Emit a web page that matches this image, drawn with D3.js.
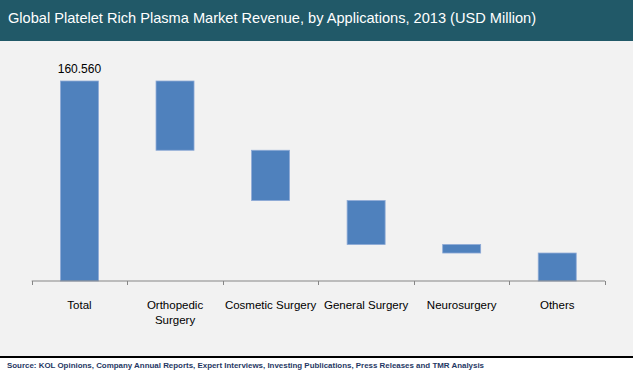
<!DOCTYPE html>
<html>
<head>
<meta charset="utf-8">
<script src="https://cdn.jsdelivr.net/npm/d3@7"></script>
<style>
  html, body { margin: 0; padding: 0; background: #fff; }
  svg { display: block; }
</style>
</head>
<body>
<div id="chart"></div>
<script>
const categories = ["Total", "Orthopedic Surgery", "Cosmetic Surgery", "General Surgery", "Neurosurgery", "Others"];
const values = [160.56, 55.6, 40.4, 35.3, 6.8, 22.46];
const totalLabel = "160.560";

const W = 633, H = 377;
const svg = d3.select("#chart").append("svg").attr("width", W).attr("height", H);

// backgrounds
svg.append("rect").attr("width", W).attr("height", 356).attr("fill", "#f2f2f2");
svg.append("rect").attr("width", W).attr("height", 41).attr("fill", "#215968");
svg.append("rect").attr("y", 356).attr("width", W).attr("height", 2).attr("fill", "#000");

svg.append("text")
  .attr("x", 8).attr("y", 23)
  .attr("fill", "#fff")
  .attr("font-family", "Liberation Sans, Arial, sans-serif")
  .attr("font-size", "14.5px")
  .attr("textLength", 528).attr("lengthAdjust", "spacingAndGlyphs")
  .text("Global Platelet Rich Plasma Market Revenue, by Applications, 2013 (USD Million)");

svg.append("text")
  .attr("x", 7).attr("y", 368)
  .attr("fill", "#1f3864")
  .attr("font-family", "Liberation Sans, Arial, sans-serif")
  .attr("font-size", "8px").attr("font-weight", "bold")
  .attr("textLength", 477).attr("lengthAdjust", "spacingAndGlyphs")
  .text("Source: KOL Opinions, Company Annual Reports, Expert Interviews, Investing Publications, Press Releases and TMR Analysis");

// waterfall data
let run = values[0];
const data = categories.map((c, i) => {
  if (i === 0) return { c, y0: 0, y1: values[0] };
  const d = { c, y0: run - values[i], y1: run };
  run -= values[i];
  return d;
});

const x = d3.scaleBand().domain(categories).range([31.7, 605]).paddingInner(0).paddingOuter(0);
const y = d3.scaleLinear().domain([0, 160.56]).range([281, 81]);

const g = svg.append("g");

g.selectAll(".bar").data(data).enter().append("rect")
  .attr("x", d => x(d.c) + x.bandwidth() / 2 - 19)
  .attr("width", 38)
  .attr("y", d => y(d.y1))
  .attr("height", d => y(d.y0) - y(d.y1))
  .attr("fill", "#4f81bd")
  .attr("stroke", "#8eaad6")
  .attr("stroke-width", 0.8);

g.append("text")
  .attr("x", x("Total") + x.bandwidth() / 2)
  .attr("y", y(values[0]) - 8)
  .attr("text-anchor", "middle")
  .attr("font-family", "Liberation Sans, Arial, sans-serif")
  .attr("font-size", "12px")
  .attr("fill", "#000")
  .text(totalLabel);

// axis
const ax = g.append("g").attr("transform", "translate(0,281)");
ax.append("line").attr("x1", x.range()[0]).attr("x2", x.range()[1])
  .attr("stroke", "#868686").attr("stroke-width", 1);
const bounds = categories.map(c => x(c)).concat([x.range()[1]]);
ax.selectAll(".tk").data(bounds).enter().append("line")
  .attr("x1", d => Math.round(d) + 0.5).attr("x2", d => Math.round(d) + 0.5)
  .attr("y1", 0).attr("y2", 4)
  .attr("stroke", "#868686");

const wrapMap = { "Orthopedic Surgery": ["Orthopedic", "Surgery"] };
categories.forEach(c => {
  const lines = wrapMap[c] || [c];
  const t = ax.append("text")
    .attr("text-anchor", "middle")
    .attr("font-family", "Liberation Sans, Arial, sans-serif")
    .attr("font-size", "11.5px")
    .attr("fill", "#000");
  lines.forEach((l, i) => {
    t.append("tspan").attr("x", x(c) + x.bandwidth() / 2).attr("y", 28 + i * 15).text(l);
  });
});
</script>
</body>
</html>
